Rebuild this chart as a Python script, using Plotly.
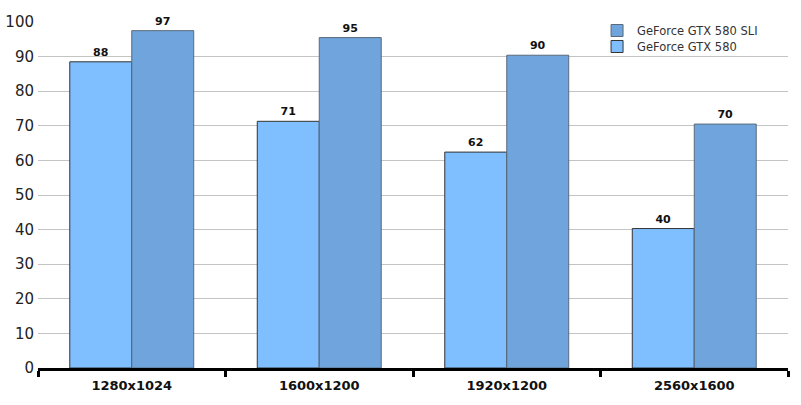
import plotly.graph_objects as go

categories = ["1280x1024", "1600x1200", "1920x1200", "2560x1600"]
gtx580 = [88.5, 71.3, 62.4, 40.3]
gtx580_sli = [97.5, 95.5, 90.4, 70.5]
gtx580_labels = ["88", "71", "62", "40"]
gtx580_sli_labels = ["97", "95", "90", "70"]
y_ticks = [0, 10, 20, 30, 40, 50, 60, 70, 80, 90, 100]

FONT = "DejaVu Sans"

fig = go.Figure()
fig.add_trace(go.Bar(
    x=categories, y=gtx580, name="GeForce GTX 580", legend="legend2",
    marker=dict(color="#80BFFF", line=dict(color="#333333", width=1)),
    text=gtx580_labels, textposition="outside", cliponaxis=False,
    textfont=dict(family=FONT, size=11, color="#111111", weight="bold"),
))
fig.add_trace(go.Bar(
    x=categories, y=gtx580_sli, name="GeForce GTX 580 SLI", legend="legend",
    marker=dict(color="#6FA5DC", line=dict(color="#5a6a7a", width=1)),
    text=gtx580_sli_labels, textposition="outside", cliponaxis=False,
    textfont=dict(family=FONT, size=11, color="#111111", weight="bold"),
))

legend_style = dict(
    xanchor="left", yanchor="top", bgcolor="rgba(0,0,0,0)",
    font=dict(family=FONT, size=11.5, color="#333333"),
)

fig.update_layout(
    width=801, height=405,
    margin=dict(l=38, r=13, t=22, b=37),
    paper_bgcolor="white", plot_bgcolor="white",
    barmode="group", bargap=0.339, bargroupgap=0,
    font=dict(family=FONT, color="#222222"),
    showlegend=True,
    legend=dict(x=0.7454, y=1.0173, **legend_style),
    legend2=dict(x=0.7454, y=0.9711, **legend_style),
)
fig.update_yaxes(
    range=[0, 100], tickvals=y_ticks, showgrid=True, gridcolor="#c4c4c4",
    gridwidth=1, zeroline=False, showline=False, ticks="", automargin=False,
    ticklabelstandoff=3,
    tickfont=dict(family=FONT, size=15, color="#222222"),
)
fig.update_xaxes(
    showline=True, linecolor="black", linewidth=3, automargin=False,
    ticks="outside", tickson="boundaries", ticklen=6, tickwidth=3, tickcolor="black",
    ticklabelstandoff=3,
    tickfont=dict(family=FONT, size=13, color="#111111", weight="bold"),
    showgrid=False,
)

fig.write_html(
    "out.html",
    config={"displayModeBar": False},
    post_script="document.body.style.margin='0';",
)
